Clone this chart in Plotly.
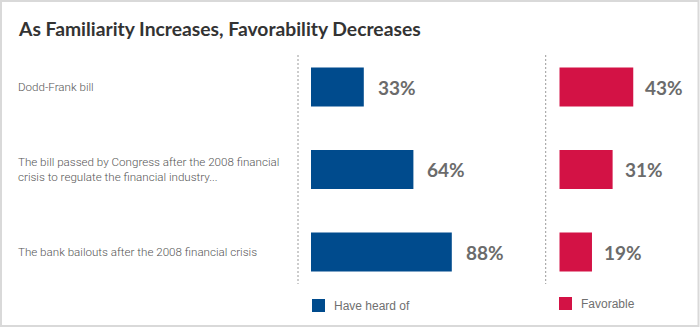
import plotly.graph_objects as go

W, H = 700, 329

title = "As Familiarity Increases, Favorability Decreases"
categories = [
    "Dodd-Frank bill",
    "The bill passed by Congress after the 2008 financial<br>crisis to regulate the financial industry...",
    "The bank bailouts after the 2008 financial crisis",
]
heard_of = [33, 64, 88]
favorable = [43, 31, 19]
series_names = ["Have heard of", "Favorable"]

BLUE = "#004B8D"
RED = "#D31245"

def px_x(p):
    return p / W

def px_y(p):
    return 1 - p / H

ypos = list(range(len(categories)))

fig = go.Figure()
fig.add_trace(go.Bar(x=heard_of, y=ypos, orientation="h", marker=dict(color=BLUE, line=dict(width=0)),
                     width=0.475, xaxis="x", yaxis="y", hoverinfo="skip", showlegend=False))
fig.add_trace(go.Bar(x=favorable, y=ypos, orientation="h", marker=dict(color=RED, line=dict(width=0)),
                     width=0.475, xaxis="x2", yaxis="y", hoverinfo="skip", showlegend=False))

annotations = []
# title
annotations.append(dict(text=f"<b>{title}</b>", x=px_x(16), y=px_y(28), xref="paper", yref="paper",
                        xanchor="left", yanchor="middle", showarrow=False,
                        font=dict(family="Lato, Open Sans, sans-serif", size=19.3, color="#333333")))
# category labels
for i, c in enumerate(categories):
    annotations.append(dict(text=c, x=px_x(16), y=i, xref="paper", yref="y", xanchor="left",
                            yanchor="middle", align="left", showarrow=False,
                            font=dict(family="Roboto, sans-serif", size=11.6, color="#555555", weight=300)))
# value labels
for i, v in enumerate(heard_of):
    annotations.append(dict(text=f"<b>{v}%</b>", x=v, y=i, xref="x", yref="y", xanchor="left",
                            yanchor="middle", xshift=12, showarrow=False,
                            font=dict(family="Lato, sans-serif", size=19, color="#6b6b6b")))
for i, v in enumerate(favorable):
    annotations.append(dict(text=f"<b>{v}%</b>", x=v, y=i, xref="x2", yref="y", xanchor="left",
                            yanchor="middle", xshift=10, showarrow=False,
                            font=dict(family="Lato, sans-serif", size=19, color="#6b6b6b")))
# legend texts
annotations.append(dict(text=series_names[0], x=px_x(332), y=px_y(306), xref="paper", yref="paper",
                        xanchor="left", yanchor="middle", showarrow=False,
                        font=dict(family="Liberation Sans, sans-serif", size=12, color="#707070")))
annotations.append(dict(text=series_names[1], x=px_x(579), y=px_y(304), xref="paper", yref="paper",
                        xanchor="left", yanchor="middle", showarrow=False,
                        font=dict(family="Liberation Sans, sans-serif", size=12, color="#707070")))

shapes = []
# border
shapes.append(dict(type="rect", xref="paper", yref="paper", x0=px_x(1), x1=px_x(698.5), y0=px_y(326), y1=px_y(1),
                   line=dict(color="#d9d9d9", width=2), fillcolor="rgba(0,0,0,0)", layer="above"))
# dashed separators
for xp in (298, 545.7):
    shapes.append(dict(type="line", xref="paper", yref="paper", x0=px_x(xp), x1=px_x(xp),
                       y0=px_y(55), y1=px_y(284), line=dict(color="#9a9a9a", width=1, dash="2px,2px")))
# legend squares
shapes.append(dict(type="rect", xref="paper", yref="paper", x0=px_x(312), x1=px_x(325), y0=px_y(312), y1=px_y(299),
                   fillcolor=BLUE, line=dict(width=0)))
shapes.append(dict(type="rect", xref="paper", yref="paper", x0=px_x(559), x1=px_x(572), y0=px_y(310), y1=px_y(297),
                   fillcolor=RED, line=dict(width=0)))

fig.update_layout(
    width=W, height=H, margin=dict(l=0, r=0, t=0, b=0),
    paper_bgcolor="white", plot_bgcolor="white",
    barmode="overlay",
    xaxis=dict(domain=[px_x(311), px_x(311 + 160)], range=[0, 100], visible=False, fixedrange=True),
    xaxis2=dict(domain=[px_x(559.3), 1], range=[0, (700 - 559.3) / 1.72], visible=False, fixedrange=True),
    yaxis=dict(domain=[px_y(293.25), px_y(45.75)], range=[2.5, -0.5], visible=False, fixedrange=True),
    annotations=annotations, shapes=shapes,
)

fig.write_html("out.html")
